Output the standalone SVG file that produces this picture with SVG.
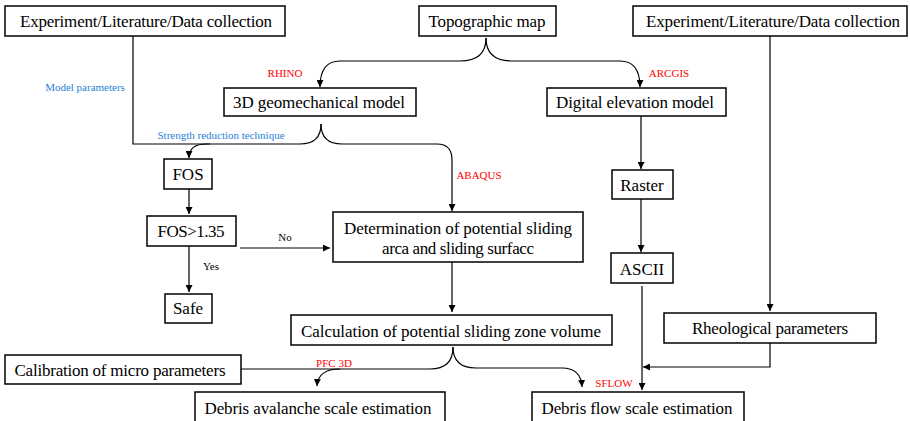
<svg xmlns="http://www.w3.org/2000/svg" width="910" height="421" viewBox="0 0 910 421" font-family="Liberation Serif, DejaVu Serif, serif">
<defs>
<marker id="ah" viewBox="0 0 10 10" refX="10" refY="5" markerWidth="7" markerHeight="7" markerUnits="userSpaceOnUse" orient="auto">
<path d="M0,0 L10,5 L0,10 Z" fill="#000"/>
</marker>
<style>
.box{fill:#fff;stroke:#000;stroke-width:1.5}
.t{font-family:"Liberation Serif",serif;font-size:17px;fill:#000;text-anchor:middle}
.red{font-family:"Liberation Serif",serif;font-size:11px;fill:#ff0000;text-anchor:middle}
.blue{font-family:"Liberation Serif",serif;font-size:11px;fill:#1f7fd6;text-anchor:middle}
.lbl{font-family:"Liberation Serif",serif;font-size:11px;fill:#000;text-anchor:middle}
.c{fill:none;stroke:#000;stroke-width:1.2}
.a{fill:none;stroke:#000;stroke-width:1.2;marker-end:url(#ah)}
</style>
</defs>
<rect width="910" height="421" fill="#fff"/>
<g id="connectors">
<path class="c" d="M133,36 V144 H210"/>
<path class="a" d="M321,124 Q321,144 300,144 H206 Q189,144 189,158"/>
<path class="a" d="M321,124 Q321,144 342,144 H437 Q452,144 452,160 V211"/>
<path class="a" d="M486,38 Q486,61 460,61 H340 Q320,61 320,87"/>
<path class="a" d="M486,38 Q486,61 512,61 H620 Q640,61 640,87"/>
<path class="a" d="M641,116 V169"/>
<path class="a" d="M641,199 V252"/>
<path class="a" d="M642,286 V390"/>
<path class="a" d="M770,36 V311"/>
<path class="a" d="M770,343 V367 H643"/>
<path class="a" d="M189,189 V214"/>
<path class="a" d="M189,246 V292"/>
<path class="a" d="M240,248 H330"/>
<path class="a" d="M452,262 V312"/>
<path class="c" d="M241,369 H340"/>
<path class="a" d="M453,347 Q453,369 430,369 H340 Q318,369 317,386"/>
<path class="a" d="M453,347 Q453,368 476,368 H562 Q581,368 582,387"/>
</g>
<g id="n_exp_left"><rect class="box" x="5" y="6" width="280" height="30"/><text class="t" x="146" y="27" textLength="252" lengthAdjust="spacing">Experiment/Literature/Data  collection</text></g>
<g id="n_topo"><rect class="box" x="419" y="6" width="137" height="30"/><text class="t" x="487" y="27" textLength="117" lengthAdjust="spacing">Topographic  map</text></g>
<g id="n_exp_right"><rect class="box" x="633" y="6" width="274" height="30"/><text class="t" x="773" y="27" textLength="254" lengthAdjust="spacing">Experiment/Literature/Data  collection</text></g>
<g id="n_geo"><rect class="box" x="224" y="88" width="192" height="28"/><text class="t" x="319" y="108" textLength="172" lengthAdjust="spacing">3D  geomechanical  model</text></g>
<g id="n_dem"><rect class="box" x="547" y="88" width="179" height="28"/><text class="t" x="635" y="108" textLength="158" lengthAdjust="spacing">Digital  elevation  model</text></g>
<g id="n_fos"><rect class="box" x="164" y="159" width="48" height="30"/><text class="t" x="188" y="180">FOS</text></g>
<g id="n_fos2"><rect class="box" x="147" y="216" width="89" height="30"/><text class="t" x="191" y="237" textLength="67" lengthAdjust="spacing">FOS&gt;1.35</text></g>
<g id="n_safe"><rect class="box" x="165" y="294" width="47" height="29"/><text class="t" x="188" y="314">Safe</text></g>
<g id="n_det"><rect class="box" x="333" y="212" width="250" height="50"/><text class="t" x="458" y="234" textLength="228" lengthAdjust="spacing">Determination  of  potential  sliding</text><text class="t" x="458" y="254" textLength="152" lengthAdjust="spacing">arca  and  sliding  surfacc</text></g>
<g id="n_raster"><rect class="box" x="612" y="170" width="61" height="29"/><text class="t" x="642" y="191">Raster</text></g>
<g id="n_ascii"><rect class="box" x="611" y="253" width="62" height="30"/><text class="t" x="642" y="275">ASCII</text></g>
<g id="n_calc"><rect class="box" x="291" y="315" width="321" height="30"/><text class="t" x="451" y="337" textLength="300" lengthAdjust="spacing">Calculation  of potential  sliding  zone  volume</text></g>
<g id="n_rheo"><rect class="box" x="664" y="313" width="212" height="30"/><text class="t" x="770" y="334" textLength="156" lengthAdjust="spacing">Rheological  parameters</text></g>
<g id="n_calib"><rect class="box" x="5" y="355" width="236" height="29"/><text class="t" x="120" y="376" textLength="211" lengthAdjust="spacing">Calibration  of micro  parameters</text></g>
<g id="n_aval"><rect class="box" x="195" y="392" width="250" height="32"/><text class="t" x="318" y="414" textLength="227" lengthAdjust="spacing">Debris  avalanche  scale  estimation</text></g>
<g id="n_flow"><rect class="box" x="532" y="392" width="212" height="32"/><text class="t" x="637" y="414" textLength="191" lengthAdjust="spacing">Debris  flow  scale  estimation</text></g>
<g id="labels">
<text class="blue" x="85" y="91">Model parameters</text>
<text class="blue" x="221" y="139">Strength reduction technique</text>
<text class="red" x="285" y="77">RHINO</text>
<text class="red" x="669" y="77">ARCGIS</text>
<text class="red" x="479" y="179">ABAQUS</text>
<text class="red" x="614" y="387">SFLOW</text>
<text class="red" x="334" y="367">PFC 3D</text>
<text class="lbl" x="285" y="241">No</text>
<text class="lbl" x="211" y="270">Yes</text>
</g>
</svg>
